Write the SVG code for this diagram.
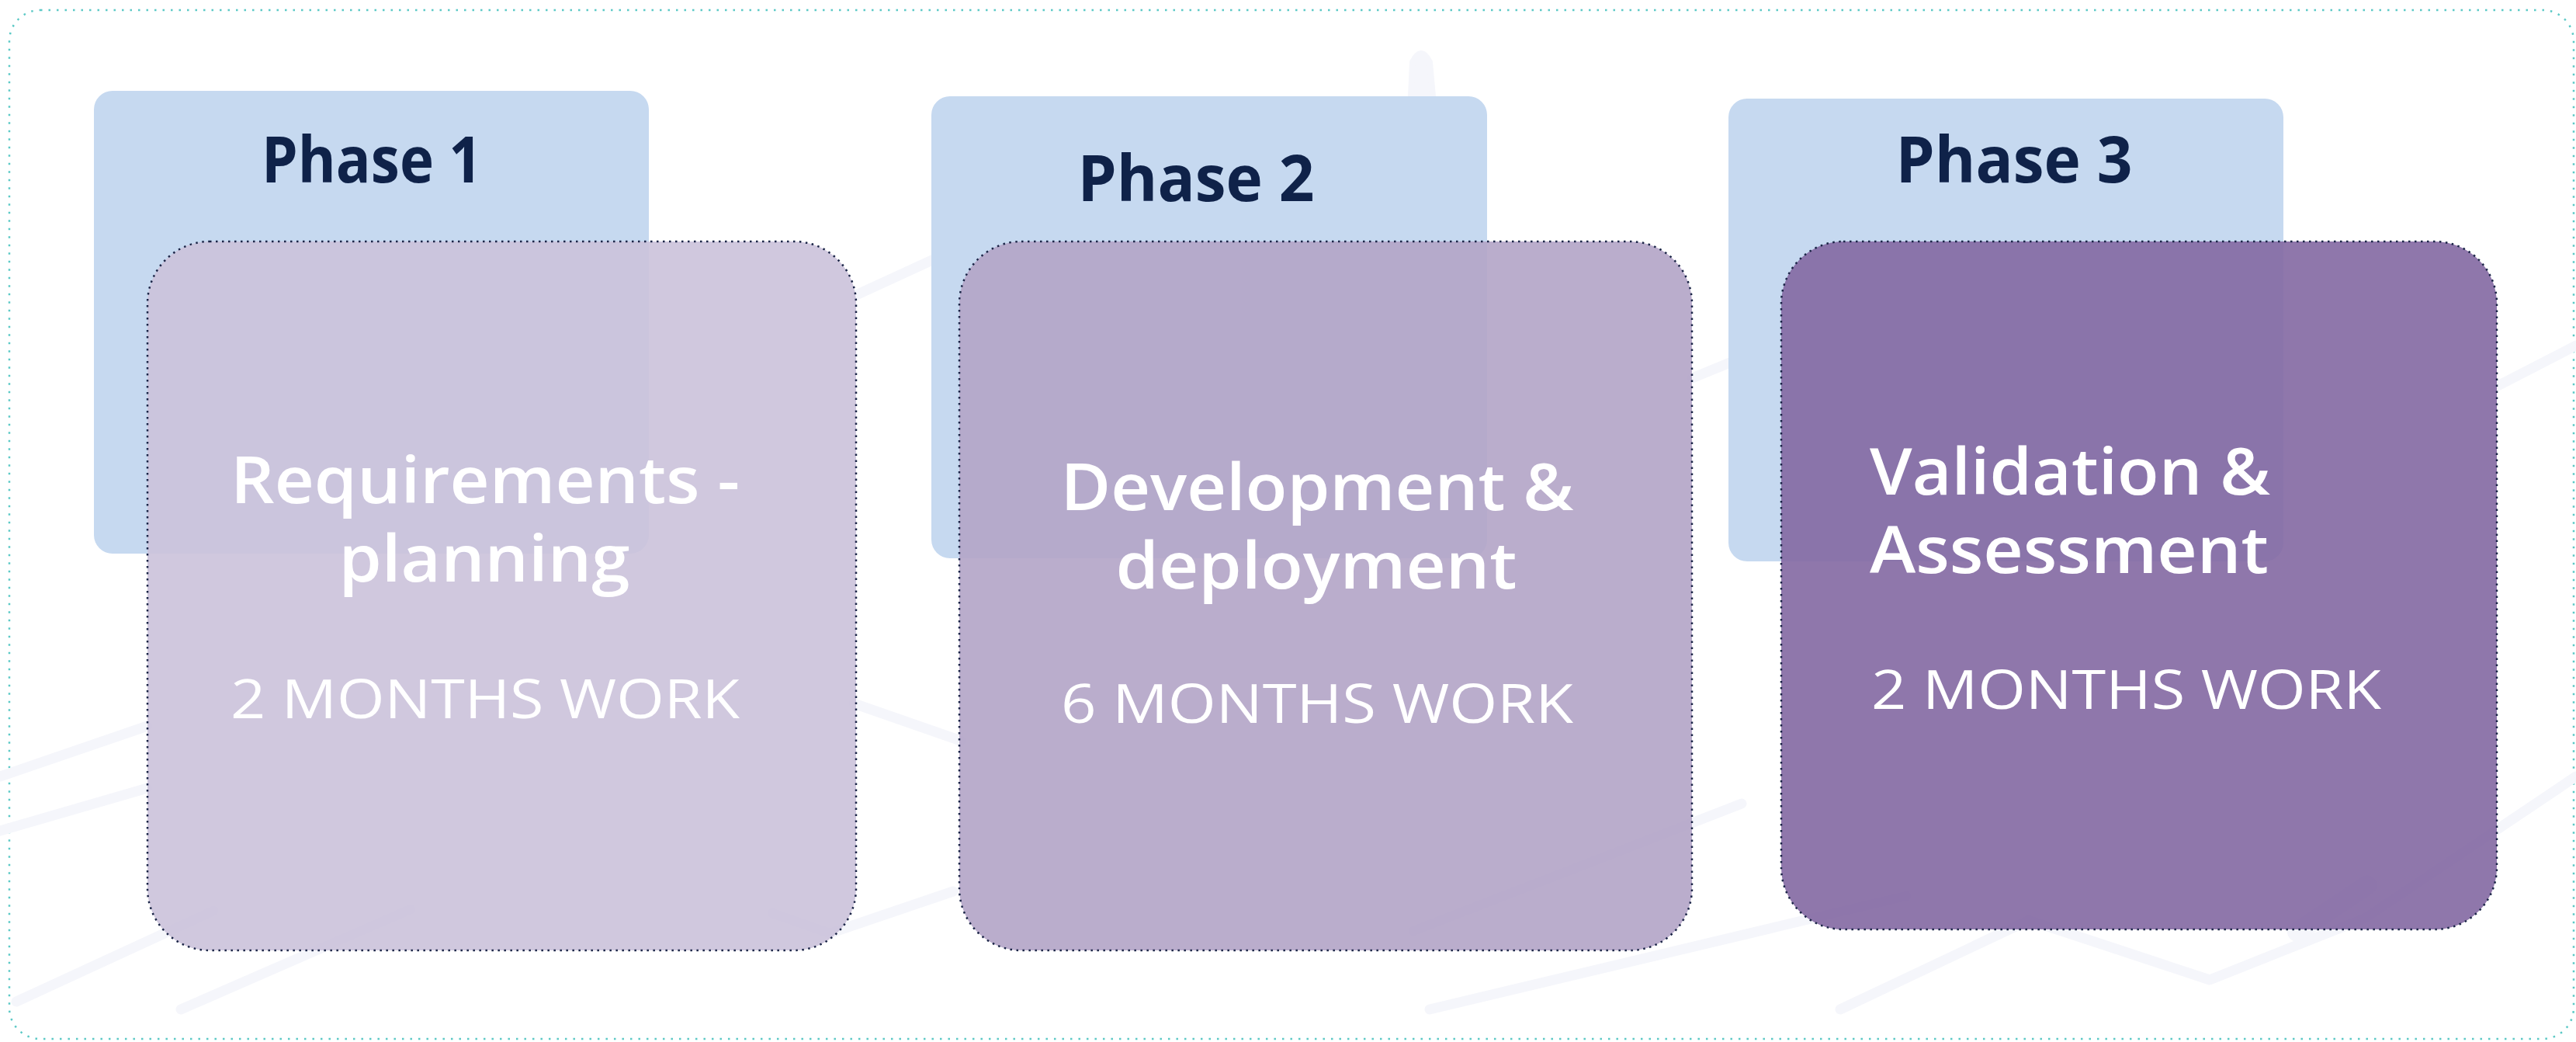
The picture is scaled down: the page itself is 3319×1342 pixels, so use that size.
<svg xmlns="http://www.w3.org/2000/svg" width="3319" height="1342" viewBox="0 0 3319 1342">
<style>
.frame{fill:#ffffff;stroke:#5cc9c6;stroke-width:2.5;stroke-dasharray:2.5 8;}
.bg{fill:none;stroke:#f5f6fb;stroke-width:13;stroke-linecap:round;stroke-linejoin:round;}
.tab{fill:#c6d9f0;}
.card{stroke:#1b2547;stroke-width:2.5;stroke-dasharray:2.5 5.5;fill-opacity:0.9;}
.c1{fill:#cbc2da;}
.c2{fill:#b3a4c7;}
.c3{fill:#8368a2;}
.phase{font-family:"Open Sans","Liberation Sans",sans-serif;font-weight:700;font-size:82px;fill:#0f2249;}
.title{font-family:"Open Sans","Liberation Sans",sans-serif;font-weight:600;font-size:84px;fill:#ffffff;}
.dur{font-family:"Open Sans","Liberation Sans",sans-serif;font-weight:400;font-size:70px;fill:#ffffff;}
</style>
<rect class="frame" x="12" y="13" width="3304" height="1325" rx="40"/>
<g id="background">
<path class="bg" d="M0,1000 L190,935"/>
<path class="bg" d="M0,1070 L190,1015"/>
<path class="bg" d="M21,1290 L275,1173"/>
<path class="bg" d="M233,1300 L529,1171"/>
<path class="bg" d="M1100,906 L1238,954"/>
<path class="bg" d="M995,1176 L1069,1202 L1228,1148"/>
<path class="bg" d="M1103,380 L1238,318"/>
<path class="bg" d="M1818,124 L1820,80 Q1831,58 1842,80 L1846,124" style="fill:#f5f6fb;stroke-width:8"/>
<path class="bg" d="M2244,1035 L1821,1199"/>
<path class="bg" d="M2456,1154 L1842,1300"/>
<path class="bg" d="M2371,1300 L2614,1185 L2847,1262 L3048,1182 L3319,1000"/>
<path class="bg" d="M2180,487 L2295,440"/>
<path class="bg" d="M3218,497 L3319,445"/>
<path class="bg" d="M2960,1200 L3050,1140" style="stroke-width:26"/>
</g>
<g id="connectors"></g>
<g id="phase1">
<rect class="tab" x="121" y="117" width="715" height="596" rx="24"/>
<text class="phase" x="479" y="235" text-anchor="middle" textLength="284" lengthAdjust="spacingAndGlyphs">Phase 1</text>
<rect class="card c1" x="190" y="311" width="913" height="913" rx="80"/>
<text class="title" x="625" y="648" text-anchor="middle" textLength="656" lengthAdjust="spacingAndGlyphs">Requirements -</text>
<text class="title" x="624" y="749" text-anchor="middle" textLength="375" lengthAdjust="spacingAndGlyphs">planning</text>
<text class="dur" x="625" y="925" text-anchor="middle" textLength="656" lengthAdjust="spacingAndGlyphs">2 MONTHS WORK</text>
</g>
<g id="phase2">
<rect class="tab" x="1200" y="124" width="716" height="595" rx="24"/>
<text class="phase" x="1541" y="259" text-anchor="middle" textLength="305" lengthAdjust="spacingAndGlyphs">Phase 2</text>
<rect class="card c2" x="1236" y="311" width="944" height="913" rx="80"/>
<text class="title" x="1697" y="657" text-anchor="middle" textLength="661" lengthAdjust="spacingAndGlyphs">Development &amp;</text>
<text class="title" x="1696" y="758" text-anchor="middle" textLength="517" lengthAdjust="spacingAndGlyphs">deployment</text>
<text class="dur" x="1697" y="931" text-anchor="middle" textLength="660" lengthAdjust="spacingAndGlyphs">6 MONTHS WORK</text>
</g>
<g id="phase3">
<rect class="tab" x="2227" y="127" width="715" height="596" rx="24"/>
<text class="phase" x="2595" y="235" text-anchor="middle" textLength="305" lengthAdjust="spacingAndGlyphs">Phase 3</text>
<rect class="card c3" x="2295" y="311" width="922" height="886" rx="80"/>
<text class="title" x="2409" y="637" textLength="516" lengthAdjust="spacingAndGlyphs">Validation &amp;</text>
<text class="title" x="2409" y="738" textLength="514" lengthAdjust="spacingAndGlyphs">Assessment</text>
<text class="dur" x="2411" y="913" textLength="657" lengthAdjust="spacingAndGlyphs">2 MONTHS WORK</text>
</g>
</svg>
